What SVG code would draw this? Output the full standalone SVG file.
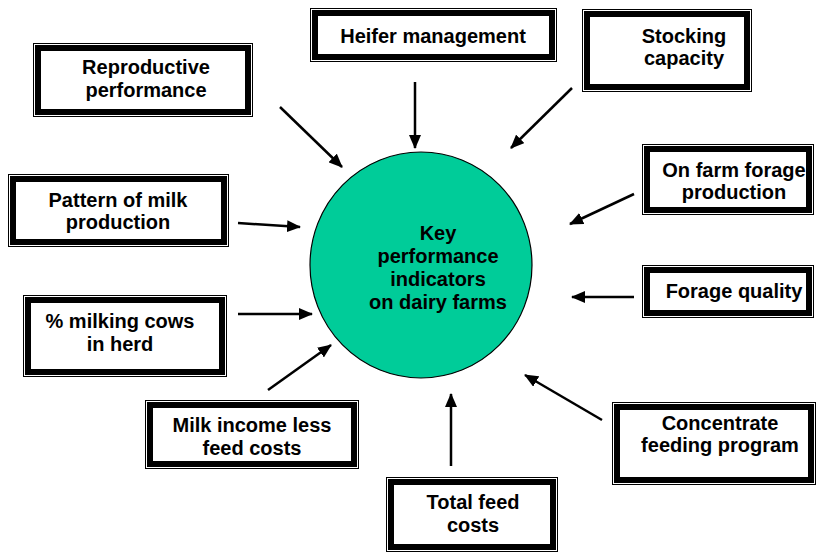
<svg xmlns="http://www.w3.org/2000/svg" width="819" height="554" viewBox="0 0 819 554">
<style>
.o{fill:#fff;stroke:#000;stroke-width:1}
.t{fill:none;stroke:#000;stroke-width:6}
text{font-family:"Liberation Sans",Arial,sans-serif;font-weight:bold;font-size:20px;fill:#000;text-anchor:middle}
.c line{stroke:#000;stroke-width:2.5;marker-end:url(#ah)}
</style>
<defs>
<marker id="ah" markerUnits="userSpaceOnUse" markerWidth="14" markerHeight="12" refX="13" refY="6" orient="auto">
<path d="M0,0 L14,6 L0,12 z" fill="#000"/>
</marker>
</defs>
<g id="center">
<ellipse cx="421" cy="265" rx="111" ry="113" fill="#00cc99" stroke="#000" stroke-width="1.2"/>
<text x="438" y="240">Key</text>
<text x="438" y="263">performance</text>
<text x="438" y="286">indicators</text>
<text x="438" y="309">on dairy farms</text>
</g>
<g class="c" id="connectors">
<line x1="280" y1="107" x2="342" y2="167"/>
<line x1="415" y1="82" x2="415" y2="148"/>
<line x1="572" y1="88" x2="511" y2="148"/>
<line x1="238" y1="223" x2="300" y2="227"/>
<line x1="238" y1="314" x2="312" y2="314"/>
<line x1="268" y1="390" x2="331" y2="345"/>
<line x1="451" y1="466" x2="451" y2="394"/>
<line x1="602" y1="420" x2="525" y2="375"/>
<line x1="634" y1="194" x2="570" y2="224"/>
<line x1="634" y1="297" x2="572" y2="297"/>
</g>
<g id="reproductive">
<rect class="o" x="33.5" y="43.5" width="219" height="73"/>
<rect class="t" x="38" y="48" width="210" height="64"/>
<text x="146" y="74">Reproductive</text>
<text x="146" y="97">performance</text>
</g>
<g id="heifer">
<rect class="o" x="310.5" y="8.5" width="246" height="53"/>
<rect class="t" x="315" y="13" width="237" height="44"/>
<text x="433" y="43">Heifer management</text>
</g>
<g id="stocking">
<rect class="o" x="582.5" y="9.5" width="169" height="82"/>
<rect class="t" x="587" y="14" width="160" height="73"/>
<text x="684" y="43">Stocking</text>
<text x="684" y="65">capacity</text>
</g>
<g id="onfarm">
<rect class="o" x="642.5" y="144.5" width="171" height="70"/>
<rect class="t" x="647" y="149" width="162" height="61"/>
<text x="734" y="177">On farm forage</text>
<text x="734" y="199">production</text>
</g>
<g id="forage">
<rect class="o" x="642.5" y="265.5" width="171" height="52"/>
<rect class="t" x="647" y="270" width="162" height="43"/>
<text x="734" y="298">Forage quality</text>
</g>
<g id="concentrate">
<rect class="o" x="612.5" y="402.5" width="203" height="82"/>
<rect class="t" x="617" y="407" width="194" height="73"/>
<text x="720" y="430">Concentrate</text>
<text x="720" y="452">feeding program</text>
</g>
<g id="totalfeed">
<rect class="o" x="386.5" y="477.5" width="171" height="74"/>
<rect class="t" x="391" y="482" width="162" height="65"/>
<text x="473" y="509">Total feed</text>
<text x="473" y="532">costs</text>
</g>
<g id="milkincome">
<rect class="o" x="145.5" y="400.5" width="213" height="68"/>
<rect class="t" x="150" y="405" width="204" height="59"/>
<text x="252" y="432">Milk income less</text>
<text x="252" y="455">feed costs</text>
</g>
<g id="milkingcows">
<rect class="o" x="23.5" y="295.5" width="203" height="81"/>
<rect class="t" x="28" y="300" width="194" height="72"/>
<text x="120" y="328">% milking cows</text>
<text x="120" y="351">in herd</text>
</g>
<g id="pattern">
<rect class="o" x="8.5" y="174.5" width="220" height="72"/>
<rect class="t" x="13" y="179" width="211" height="63"/>
<text x="118" y="207">Pattern of milk</text>
<text x="118" y="229">production</text>
</g>
</svg>
